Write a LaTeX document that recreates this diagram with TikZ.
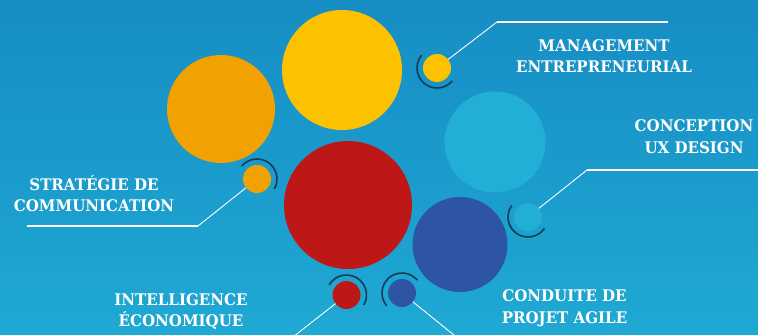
\documentclass[tikz,border=0pt]{standalone}
\usepackage{fontspec}
\setmainfont{DejaVu Serif}[FakeStretch=0.94]
\definecolor{bgTop}{HTML}{168DC4}
\definecolor{bgBottom}{HTML}{1FA9D3}
\definecolor{discYellow}{HTML}{FCC200}
\definecolor{discOrange}{HTML}{F2A200}
\definecolor{discRed}{HTML}{BE1717}
\definecolor{discCyan}{HTML}{22AFD5}
\definecolor{discBlue}{HTML}{2E55A3}
\definecolor{ringDark}{HTML}{133C56}

\begin{document}
\begin{tikzpicture}[x = 1bp, y = 1bp,
    disc/.style = {circle, inner sep=0pt, outer sep=0pt},
    ring/.style = {color=ringDark, line width=1.6bp},
    leader/.style = {white, line width=0.9bp},
    shelf/.style = {white, line width=1.8bp},
    tag/.style = {white, align=center,
                  font=\fontsize{16bp}{21.5bp}\selectfont\bfseries}]

    % background %
    \useasboundingbox (0, 0) rectangle (758, 334) ;
    \clip (0, 0) rectangle (758, 334) ;
    \shade [top color=bgTop, bottom color=bgBottom] (0, 0) rectangle (758, 334) ;


    % big discs %

    \node [disc, fill=discYellow, minimum size=120bp] at (342, 264) (big-yellow) {} ;
    \node [disc, fill=discOrange, minimum size=108bp] at (221, 225) (big-orange) {} ;
    \node [disc, fill=discCyan, minimum size=101bp] at (495, 192) (big-cyan) {} ;
    \node [disc, fill=discRed, minimum size=128bp] at (348, 129) (big-red) {} ;
    \node [disc, fill=discBlue, minimum size=95bp] at (460, 89.5) (big-blue) {} ;


    % small discs with rings %

    % management
    \node [disc, fill=discYellow, minimum size=28bp] at (437, 266) (dot-mgmt) {} ;
    \draw [ring] ([shift={(140:20)}]dot-mgmt.center) arc (140:320:20) ;

    % strategie
    \node [disc, fill=discOrange, minimum size=28bp] at (257, 155) (dot-strat) {} ;
    \draw [ring] ([shift={(-30:20)}]dot-strat.center) arc (-30:140:20) ;

    % conception
    \node [disc, fill=discCyan, minimum size=28bp] at (528, 117) (dot-ux) {} ;
    \draw [ring] ([shift={(145:20)}]dot-ux.center) arc (145:325:20) ;

    % intelligence
    \node [disc, fill=discRed, minimum size=28bp] at (346.5, 39) (dot-intel) {} ;
    \draw [ring] ([shift={(-30:20)}]dot-intel.center) arc (-30:150:20) ;

    % conduite
    \node [disc, fill=discBlue, minimum size=28bp] at (402, 41) (dot-agile) {} ;
    \draw [ring] ([shift={(40:20)}]dot-agile.center) arc (40:220:20) ;


    % labels %

    \node [tag] at (604, 278) (tag-mgmt) {MANAGEMENT\\ENTREPRENEURIAL} ;
    \node [tag] at (94, 140.5) (tag-strat) {STRATÉGIE DE\\COMMUNICATION} ;
    \node [tag] at (694, 197.5) (tag-ux) {CONCEPTION\\UX DESIGN} ;
    \node [tag] at (181, 22.5) (tag-intel) {INTELLIGENCE\\ÉCONOMIQUE} ;
    \node [tag] at (564.5, 26) (tag-agile) {CONDUITE DE\\PROJET AGILE} ;


    % leader lines %

    \coordinate (mgmt-elbow) at (497, 312) ;
    \coordinate (mgmt-end) at (668, 312) ;
    \draw [leader] (dot-mgmt) -- (mgmt-elbow) ;
    \draw [shelf] (mgmt-elbow) -- (mgmt-end) ;

    \coordinate (strat-elbow) at (198, 108) ;
    \coordinate (strat-end) at (27, 108) ;
    \draw [leader] (dot-strat) -- (strat-elbow) ;
    \draw [shelf] (strat-elbow) -- (strat-end) ;

    \coordinate (ux-elbow) at (587, 164) ;
    \coordinate (ux-end) at (762, 164) ;
    \draw [leader] (dot-ux) -- (ux-elbow) ;
    \draw [shelf] (ux-elbow) -- (ux-end) ;

    \coordinate (intel-end) at (284, -10) ;
    \draw [leader] (dot-intel) -- (intel-end) ;

    \coordinate (agile-end) at (465, -10) ;
    \draw [leader] (dot-agile) -- (agile-end) ;

\end{tikzpicture}
\end{document}
